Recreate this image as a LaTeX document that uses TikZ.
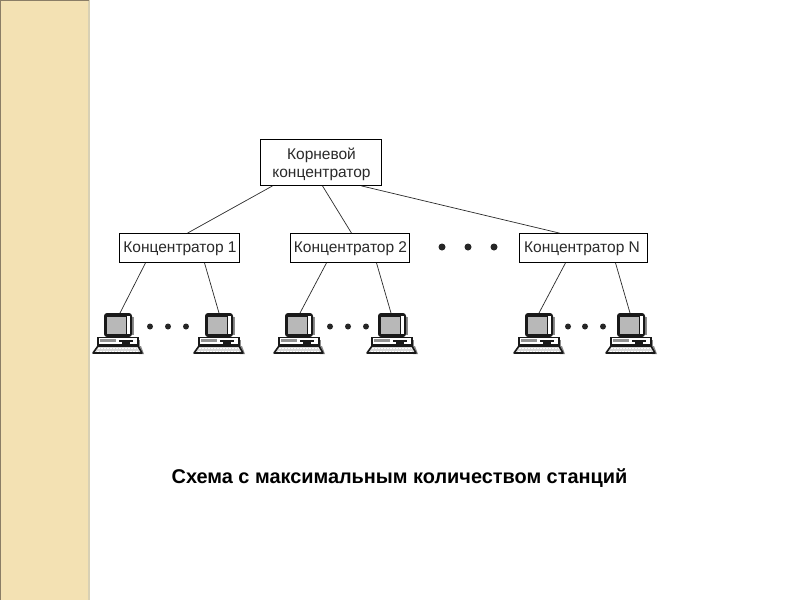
\documentclass[tikz,border=0pt]{standalone}
\usepackage{fontspec}
\setmainfont{Liberation Sans}
\usetikzlibrary{calc}
\definecolor{sidefill}{HTML}{F3E1B3}
\definecolor{sideedge}{HTML}{8A7D66}
\definecolor{sideshade}{HTML}{D8D0B4}
\definecolor{inktxt}{HTML}{2A2A2A}
\definecolor{screen}{HTML}{B8B8B8}
\definecolor{pcshade}{HTML}{8C8C8C}
\tikzset{
  x=1pt,y=-1pt,
  hubbox/.style={draw=black,line width=0.8pt,fill=white,inner sep=0pt,align=center,font=\fontsize{15.5}{18}\selectfont,text=inktxt},
  hublabel/.style={inner sep=0pt,align=center,font=\fontsize{15.5}{18}\selectfont,text=inktxt},
  wire/.style={draw=inktxt,line width=0.7pt},
  bigdot/.style={circle,fill=black!85,inner sep=0pt,minimum size=7pt},
  smalldot/.style={circle,fill=black!85,inner sep=0pt,minimum size=6pt},
  pics/pc/.style={code={
    % shadows
    \fill[pcshade] (40,4) rectangle (42,22);
    \fill[pcshade] (45,27) rectangle (48,33);
    \fill[pcshade] (47,33) -- (49,33) -- (52,41) -- (47,41) -- cycle;
    % monitor
    \fill[black!90,rounded corners=3pt] (12,0) rectangle (40,24);
    \fill[white] (35,3) rectangle (37.5,21);
    \fill[screen] (15,3.5) rectangle (34,20.5);
    % case
    \draw[black!90,line width=1.4pt,fill=white] (6,24.5) -- (46,24.5) -- (46,32) -- (6,32) -- cycle;
    \fill[screen!80!black] (8,26) rectangle (24,29);
    \fill[black!90] (27,26.5) rectangle (41,29);
    \fill[black!90] (30,29) rectangle (38,31);
    % keyboard
    \draw[black!90,line width=1.6pt,fill=black!15,line join=round] (6,33) -- (46,33) -- (50,40) -- (1,40) -- cycle;
    \draw[white,line width=0.8pt,dash pattern=on 2pt off 1pt] (6,35.5) -- (46,35.5);
    \draw[white,line width=0.8pt,dash pattern=on 2pt off 1pt] (5,38) -- (47,38);
  }}
}
\begin{document}
\begin{tikzpicture}
\useasboundingbox (0,0) rectangle (800,600);
\fill[white] (0,0) rectangle (800,600);
\fill[sideshade] (88,0) rectangle (90,600);
\fill[sidefill] (0,0) rectangle (88,600);
\fill[sideedge] (0,0) rectangle (0.8,600);
\fill[sideedge] (0,0) rectangle (89,0.8);

\node[hubbox,minimum width=121pt,minimum height=46pt] (root) at (321,162.5) {};
\node[hubbox,minimum width=120pt,minimum height=29pt] (hubA) at (179.5,248) {};
\node[hubbox,minimum width=119pt,minimum height=29pt] (hubB) at (350,248) {};
\node[hubbox,minimum width=128pt,minimum height=29pt] (hubN) at (583.5,248) {};
\node[hublabel] (rootlabel) at (321.5,164) {Корневой\\[0pt]концентратор};
\node[hublabel] (hubAlabel) at (180,249) {Концентратор 1};
\node[hublabel] (hubBlabel) at (350.5,249) {Концентратор 2};
\node[hublabel] (hubNlabel) at (582,249) {Концентратор N};

\pic at (92,313) {pc};
\pic at (193,313) {pc};
\pic at (273,313) {pc};
\pic at (366,313) {pc};
\pic at (513,313) {pc};
\pic at (605,313) {pc};

\coordinate (pcA1) at (120,313);
\coordinate (pcA2) at (219,313);
\coordinate (pcB1) at (300,313);
\coordinate (pcB2) at (391,313);
\coordinate (pcN1) at (539,313);
\coordinate (pcN2) at (630,313);

\draw[wire] ([xshift=-48.5pt]root.south) -- ([xshift=8pt]hubA.north);
\draw[wire] ([xshift=1.5pt]root.south) -- ([xshift=1.5pt]hubB.north);
\draw[wire] ([xshift=40.5pt]root.south) -- ([xshift=-24pt]hubN.north);
\draw[wire] ([xshift=-34pt]hubA.south) -- (pcA1);
\draw[wire] ([xshift=25pt]hubA.south) -- (pcA2);
\draw[wire] ([xshift=-23.5pt]hubB.south) -- (pcB1);
\draw[wire] ([xshift=26.5pt]hubB.south) -- (pcB2);
\draw[wire] ([xshift=-18pt]hubN.south) -- (pcN1);
\draw[wire] ([xshift=32pt]hubN.south) -- (pcN2);

\foreach \n/\px/\py in {a/442/247,b/468/247,c/494/247}
  \node[bigdot] (big\n) at (\px,\py) {};
\foreach \n/\px in {a/150,b/168,c/186,d/330,e/348,f/366,g/568,h/585,i/603}
  \node[smalldot] (small\n) at (\px,326.5) {};

\node[font=\bfseries\fontsize{19.9}{24}\selectfont,text=black] (title) at (399.5,478) {Схема с максимальным количеством станций};
\end{tikzpicture}
\end{document}
